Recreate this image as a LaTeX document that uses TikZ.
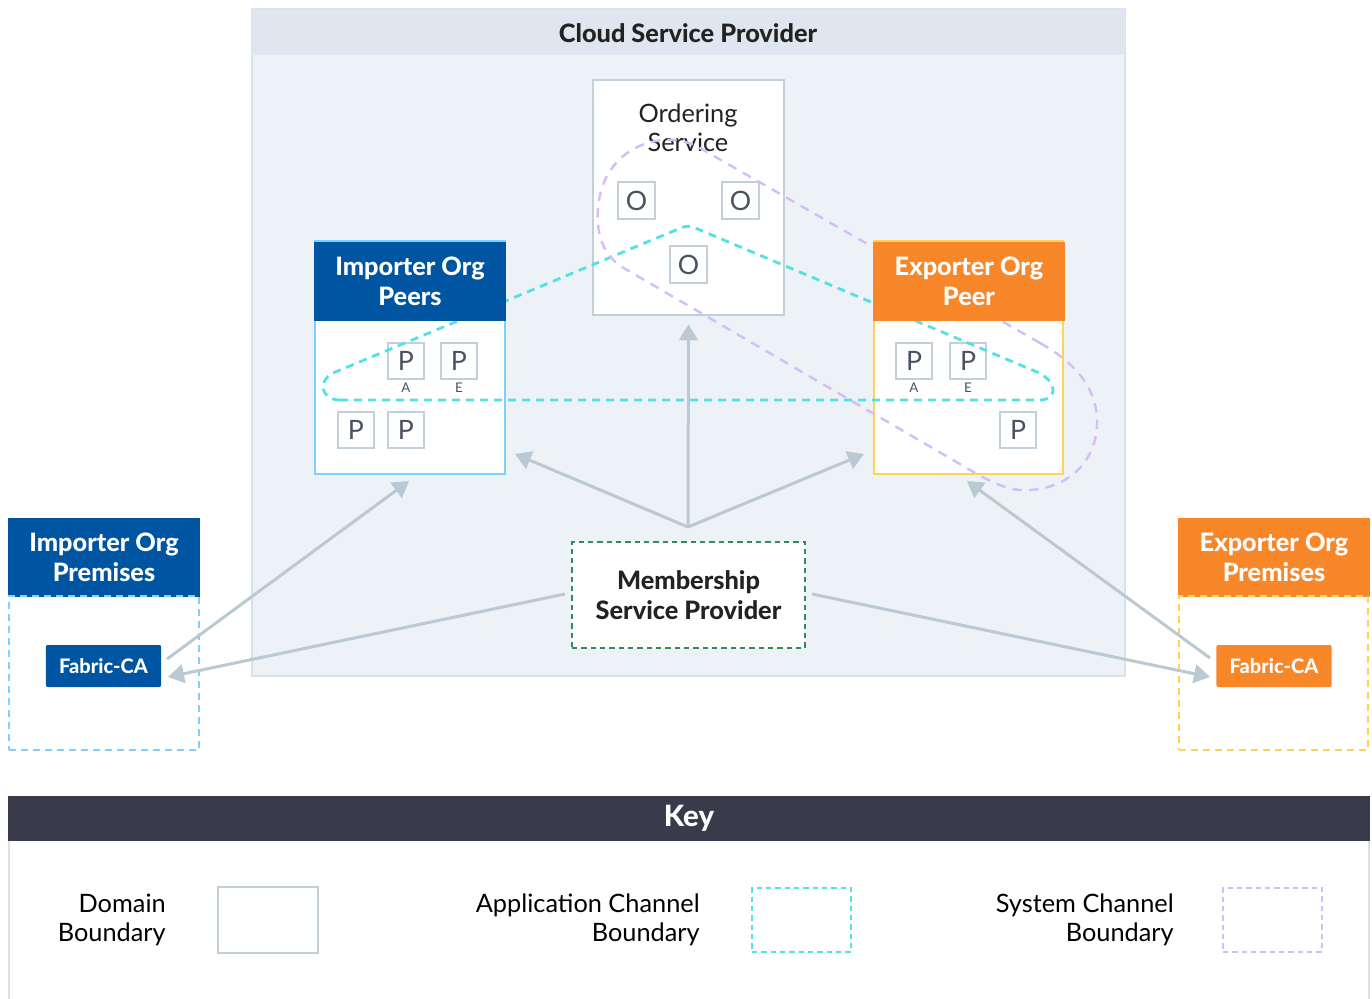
\documentclass[tikz,border=0pt]{standalone}
\usepackage{fontspec}
\setmainfont{Lato}[BoldFont={Lato Heavy}]
\usetikzlibrary{arrows.meta}
\definecolor{impblue}{HTML}{0055A2}
\definecolor{exporange}{HTML}{F8872A}
\definecolor{ltblue}{HTML}{7FCFFF}
\definecolor{yel}{HTML}{FFD258}
\definecolor{domgrey}{HTML}{C3D0DA}
\definecolor{arrowc}{HTML}{BBC9D3}
\definecolor{cloudhd}{HTML}{DFE6EF}
\definecolor{cloudbg}{HTML}{EDF2F7}
\definecolor{cloudln}{HTML}{D9E2EB}
\definecolor{appc}{HTML}{52E2E4}
\definecolor{sysc}{HTML}{D5BCFB}
\definecolor{mspg}{HTML}{2B8F5C}
\definecolor{keyhd}{HTML}{393B4A}
\definecolor{txt}{HTML}{222222}
\definecolor{ptxt}{HTML}{4A5163}
\newcommand\hdrfont{\bfseries\fontsize{19}{22.5}\selectfont}
\newcommand\regfont{\fontsize{19}{22}\selectfont}
\begin{document}
\begin{tikzpicture}[x=0.75pt,y=-0.75pt,
  hdr/.style={inner sep=0pt, text=white, font=\hdrfont, align=center, minimum width=144pt, minimum height=59.25pt},
  body/.style={inner sep=0pt, fill=white, line width=1.9pt},
  pbox/.style={draw=domgrey, fill=white, line width=1.6pt, inner sep=0pt, minimum size=27pt, text=ptxt, font=\fontsize{20}{20}\selectfont},
  sublbl/.style={inner sep=0pt, text=ptxt, font=\fontsize{10}{10}\selectfont},
  ca/.style={inner sep=0pt, rounded corners=1.5pt, text=white, font=\bfseries\fontsize{15}{15}\selectfont, minimum width=86.5pt, minimum height=31.5pt},
  conn/.style={draw=arrowc, line width=2.25pt, -{Triangle[length=12pt,width=14pt]}},
  appline/.style={draw=appc, line width=2.1pt, dash pattern=on 6pt off 4.5pt},
  sysline/.style={draw=sysc, line width=1.8pt, dash pattern=on 7pt off 5.5pt},
  keylbl/.style={inner sep=0pt, anchor=east, align=right, text=black, font=\regfont},
]
\useasboundingbox (0,0) rectangle (1372,999);
\fill[white] (0,0) rectangle (1372,999);

% Cloud service provider
\draw[fill=cloudbg, draw=cloudln, line width=1.5pt] (252,9) rectangle (1125,676);
\fill[cloudhd] (252,9) rectangle (1125,55);
\node[inner sep=0pt, text=txt, font=\bfseries\fontsize{19}{22}\selectfont] (cloudtitle) at (688,33) {Cloud Service Provider};

% Ordering service
\node[body, draw=domgrey, minimum width=143.25pt, minimum height=176.25pt] (ordering) at (688.5,197.5) {};
\node[inner sep=0pt, align=center, text=txt, font=\regfont] (ordtitle) at (688,128) {Ordering\\Service};
\node[pbox, minimum size=27.75pt] (o1) at (636.5,200.5) {O};
\node[pbox, minimum size=27.75pt] (o2) at (740.5,200.5) {O};
\node[pbox, minimum size=27.75pt] (o3) at (688.5,264.5) {O};

% Peer bodies
\node[body, draw=ltblue, minimum width=142.5pt, minimum height=174.75pt] (impbody) at (410,357.5) {};
\node[body, draw=yel, minimum width=141.75pt, minimum height=174.75pt] (expbody) at (968.5,357.5) {};

\node[pbox] (ipa) at (406,361) {P};
\node[pbox] (ipe) at (459,361) {P};
\node[pbox] (ip1) at (356,430) {P};
\node[pbox] (ip2) at (406,430) {P};
\node[sublbl] (ipal) at (406,388) {A};
\node[sublbl] (ipel) at (459,388) {E};

\node[pbox] (epa) at (914,361) {P};
\node[pbox] (epe) at (968,361) {P};
\node[pbox] (ep1) at (1018,430) {P};
\node[sublbl] (epal) at (914,388) {A};
\node[sublbl] (epel) at (968,388) {E};

% Channel boundaries
\draw[appline] (340,400) -- (1040,400) .. controls (1056,400) and (1060,383) .. (1037,372)
  -- (700,230) .. controls (688,225) .. (676,230)
  -- (333,373) .. controls (318,380) and (320,400) .. (340,400) -- cycle;
\draw[sysline] (1040,343) -- (700,148) .. controls (665,128) and (608,145) .. (599,200)
  .. controls (594,232) and (603,255) .. (622,267) -- (965,467)
  .. controls (990,482) and (1010,492) .. (1030,490)
  .. controls (1075,487) and (1098,455) .. (1097,420)
  .. controls (1096,385) and (1072,361) .. (1040,343) -- cycle;

% Headers of peer boxes
\node[hdr, fill=impblue] (imphdr) at (410,281.5) {Importer Org\\Peers};
\node[hdr, fill=exporange] (exphdr) at (969,281.5) {Exporter Org\\Peer};

% Membership service provider
\node[inner sep=0pt, fill=white, draw=mspg, line width=1.9pt, dash pattern=on 4pt off 3pt,
  minimum width=174.75pt, minimum height=79.5pt, align=center, text=txt,
  font=\bfseries\fontsize{19}{22}\selectfont] (msp) at (688.5,595) {Membership\\Service Provider};

% Premises
\node[hdr, fill=impblue] (impprem) at (104,557.5) {Importer Org\\Premises};
\node[inner sep=0pt, draw=ltblue, line width=1.5pt, dash pattern=on 5pt off 4pt, minimum width=142.5pt, minimum height=115.5pt] (imppremb) at (104,673) {};
\node[ca, fill=impblue] (impca) at (103.5,666) {Fabric-CA};

\node[hdr, fill=exporange] (expprem) at (1274,557.5) {Exporter Org\\Premises};
\node[inner sep=0pt, draw=yel, line width=1.5pt, dash pattern=on 5pt off 4pt, minimum width=141.75pt, minimum height=115.5pt] (exppremb) at (1273.5,673) {};
\node[ca, fill=exporange] (expca) at (1274,666) {Fabric-CA};

% Connectors
\coordinate (hub) at (688,527);
\coordinate (imptip) at (515,454);
\coordinate (exptip) at (864,454);
\coordinate (impcaout) at (167,659);
\coordinate (imppeertip) at (409,481);
\coordinate (mspL) at (565,594);
\coordinate (impcatip) at (168,677);
\coordinate (expcaout) at (1210,658);
\coordinate (exppeertip) at (967,481);
\coordinate (mspR) at (812,594);
\coordinate (expcatip) at (1210,677);

\draw[conn, shorten >=6pt] (hub) -- (ordering.south);
\draw[conn] (hub) -- (imptip);
\draw[conn] (hub) -- (exptip);
\draw[conn] (impcaout) -- (imppeertip);
\draw[conn] (mspL) -- (impcatip);
\draw[conn] (expcaout) -- (exppeertip);
\draw[conn] (mspR) -- (expcatip);

% Key
\node[inner sep=0pt, fill=keyhd, minimum width=1021.5pt, minimum height=33.75pt, text=white, font=\bfseries\fontsize{22}{22}\selectfont] (keyhdr) at (689,818.5) {Key};
\draw[cloudln, line width=1.5pt] (9,841) -- (9,999);
\draw[cloudln, line width=1.5pt] (1369,841) -- (1369,999);

\node[keylbl] (kdom) at (166,920) {Domain\\Boundary};
\node[inner sep=0pt, draw=domgrey, line width=1.9pt, minimum width=75pt, minimum height=49.5pt] (kdombox) at (268,920) {};
\node[keylbl] (kapp) at (700,920) {Application Channel\\Boundary};
\node[inner sep=0pt, draw=appc, line width=1.5pt, dash pattern=on 4pt off 3pt, minimum width=74.25pt, minimum height=48pt] (kappbox) at (801.5,920) {};
\node[keylbl] (ksys) at (1174,920) {System Channel\\Boundary};
\node[inner sep=0pt, draw=sysc, line width=1.5pt, dash pattern=on 4pt off 3pt, minimum width=74.25pt, minimum height=48pt] (ksysbox) at (1272.5,920) {};
\end{tikzpicture}
\end{document}
